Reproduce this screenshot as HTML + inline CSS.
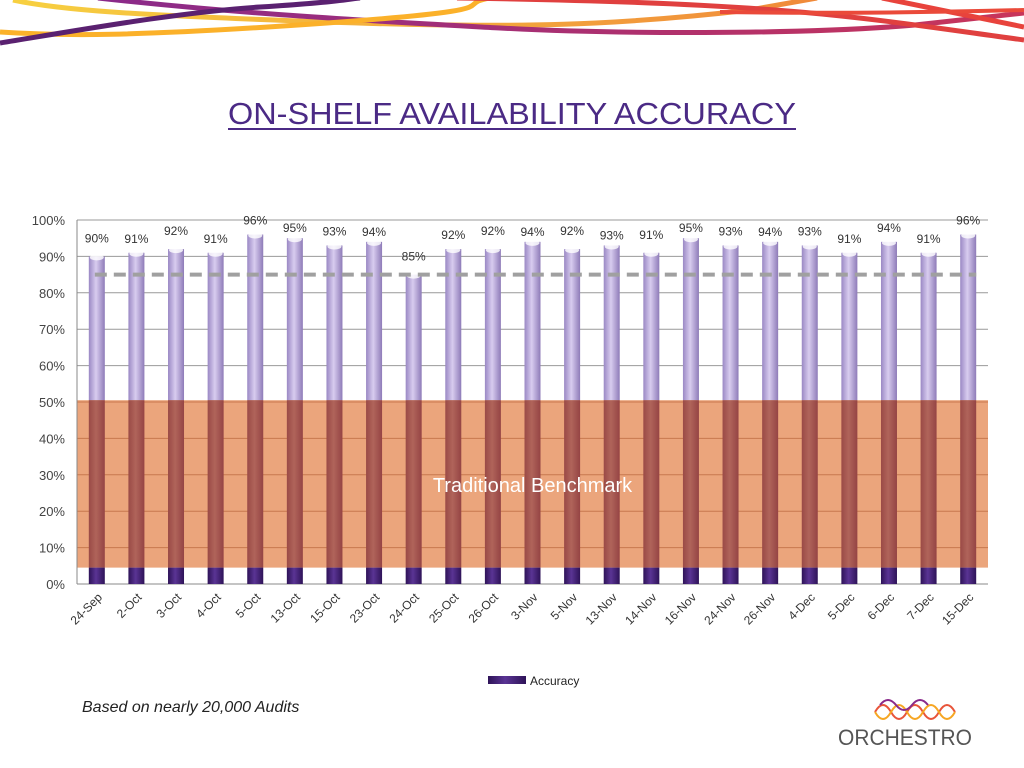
<!DOCTYPE html>
<html><head><meta charset="utf-8"><style>
body{margin:0;width:1024px;height:768px;background:#fff;overflow:hidden;font-family:"Liberation Sans",sans-serif;position:relative}
</style></head><body>
<svg width="1024" height="768" style="position:absolute;left:0;top:0">
<defs>
<linearGradient id="bg" x1="0" x2="1" y1="0" y2="0">
<stop offset="0" stop-color="#9a88c4"/><stop offset="0.45" stop-color="#d8ccef"/><stop offset="1" stop-color="#8e7bb8"/></linearGradient>
<linearGradient id="dg" x1="0" x2="1"><stop offset="0" stop-color="#2e1358"/><stop offset="0.45" stop-color="#5a3494"/><stop offset="1" stop-color="#2e1358"/></linearGradient>
<linearGradient id="rg" x1="0" x2="1"><stop offset="0" stop-color="#9a4a46"/><stop offset="0.45" stop-color="#b0645a"/><stop offset="1" stop-color="#954444"/></linearGradient>
<linearGradient id="yo" x1="0" x2="1"><stop offset="0" stop-color="#f7d040"/><stop offset="1" stop-color="#f08a3a"/></linearGradient>
<linearGradient id="mg" x1="0" x2="1"><stop offset="0" stop-color="#8a2a8a"/><stop offset="1" stop-color="#c8355a"/></linearGradient>
</defs>
<g fill="none" stroke-width="5">
<path d="M13 0 C60 10,130 15,327 22 S620 25,750 10 L817 -2" stroke="url(#yo)"/>
<path d="M98 -2 C250 15,392 22,500 28 S800 35,915 25 L1024 13" stroke="url(#mg)"/>
<path d="M0 32 C60 36,130 37,327 23 S450 5,490 -2" stroke="#fbb12a"/>
<path d="M0 43 C80 30,180 12,260 7 S340 0,360 -2" stroke="#5a2170"/>
<path d="M457 -2 C600 0,719 5,800 12 S950 30,1024 40" stroke="#e0403f"/>
<path d="M882 -2 L1024 27" stroke="#e8433c"/>
<path d="M720 12 C850 14,950 12,1024 10" stroke="#ea4a3a" stroke-width="4"/>
</g>
<text x="228" y="124" font-size="31" fill="#4b2a85" textLength="568" lengthAdjust="spacingAndGlyphs">ON-SHELF AVAILABILITY ACCURACY</text>
<line x1="228" y1="129" x2="796" y2="129" stroke="#4b2a85" stroke-width="2"/>
<g id="chart"></g>
<text x="82" y="712" font-size="16" font-style="italic" fill="#222">Based on nearly 20,000 Audits</text>
<g>
<path d="M875 712 q8 -14 16 0 t16 0 t16 0 t16 0 t16 0" fill="none" stroke="#e8543a" stroke-width="2"/>
<path d="M875 712 q8 14 16 0 t16 0 t16 0 t16 0 t16 0" fill="none" stroke="#f6a623" stroke-width="2"/>
<path d="M880 705 q8 -10 16 0 t16 0 t16 0" fill="none" stroke="#8a2a8a" stroke-width="2"/>
<text x="838" y="745" font-size="22" fill="#555" textLength="134" lengthAdjust="spacingAndGlyphs">ORCHESTRO</text>
</g>
</svg>
<script>
const categories=["24-Sep","2-Oct","3-Oct","4-Oct","5-Oct","13-Oct","15-Oct","23-Oct","24-Oct","25-Oct","26-Oct","3-Nov","5-Nov","13-Nov","14-Nov","16-Nov","24-Nov","26-Nov","4-Dec","5-Dec","6-Dec","7-Dec","15-Dec"];
const accuracy=[90,91,92,91,96,95,93,94,85,92,92,94,92,93,91,95,93,94,93,91,94,91,96];
const yTicks=[0,10,20,30,40,50,60,70,80,90,100];
const benchmark=85;
const bandMin=4.5, bandMax=50.5;
const L=77,R=988,T=220,B=584;
const ns="http://www.w3.org/2000/svg";
const g=document.getElementById('chart');
const y=v=>B-(v/100)*(B-T);
const step=(R-L)/categories.length;
const x=i=>L+step*(i+0.5);
function mk(t,a){const e=document.createElementNS(ns,t);for(const k in a)e.setAttribute(k,a[k]);g.appendChild(e);return e;}
yTicks.forEach(t=>{
 const tx=mk('text',{x:L-12,y:y(t)+5,'text-anchor':'end','font-size':13,fill:'#444'});
 tx.textContent=t+'%';
 
 
});
const band=mk('rect',{x:L,y:y(bandMax),width:R-L,height:y(bandMin)-y(bandMax),fill:'#eba57c'});


yTicks.forEach(t=>{
 const inBand=t>bandMin&&t<bandMax;
 const ln=mk('line',{x1:L,x2:R,y1:y(t),y2:y(t),stroke:t===0?'#888':(inBand?'#c8784e':'#999'),'stroke-width':1});
 
 
});
mk('line',{x1:L,x2:L,y1:T,y2:B,stroke:'#888'});
accuracy.forEach((v,i)=>{
 const bw=16;
 const r=mk('rect',{x:x(i)-bw/2,y:y(v),width:bw,height:y(bandMax)-y(v),fill:'url(#bg)'});
 
 
 mk('ellipse',{cx:x(i),cy:y(v)+1,rx:bw/2-1,ry:3,fill:'#fff',opacity:0.8});
 const m=mk('rect',{x:x(i)-bw/2,y:y(bandMax),width:bw,height:y(bandMin)-y(bandMax),fill:'url(#rg)'});
 
 
 const d=mk('rect',{x:x(i)-bw/2,y:y(bandMin),width:bw,height:B-y(bandMin),fill:'url(#dg)'});
 
 
 const lb=mk('text',{x:x(i),y:y(v)-(i%2?10:14)+(v<93?0:4),'text-anchor':'middle','font-size':12,fill:'#333'});
 lb.textContent=v+'%';
 
 
 const c=mk('text',{x:0,y:0,'text-anchor':'end','font-size':12,fill:'#333',transform:`translate(${x(i)+6},${B+14}) rotate(-45)`});
 c.textContent=categories[i];
 
 
});
const bl=mk('line',{x1:x(0)-2,x2:x(categories.length-1)+8,y1:y(benchmark),y2:y(benchmark),stroke:'#a0a0a0','stroke-width':4,'stroke-dasharray':'12 7'});


const bt=mk('text',{x:(L+R)/2,y:492,'text-anchor':'middle','font-size':20,fill:'#fff'});
bt.textContent='Traditional Benchmark';


const lg=mk('rect',{x:488,y:676,width:38,height:8,fill:'url(#dg)'});


const lt=mk('text',{x:530,y:685,'font-size':12,fill:'#222'});
lt.textContent='Accuracy';


</script>
</body></html>
